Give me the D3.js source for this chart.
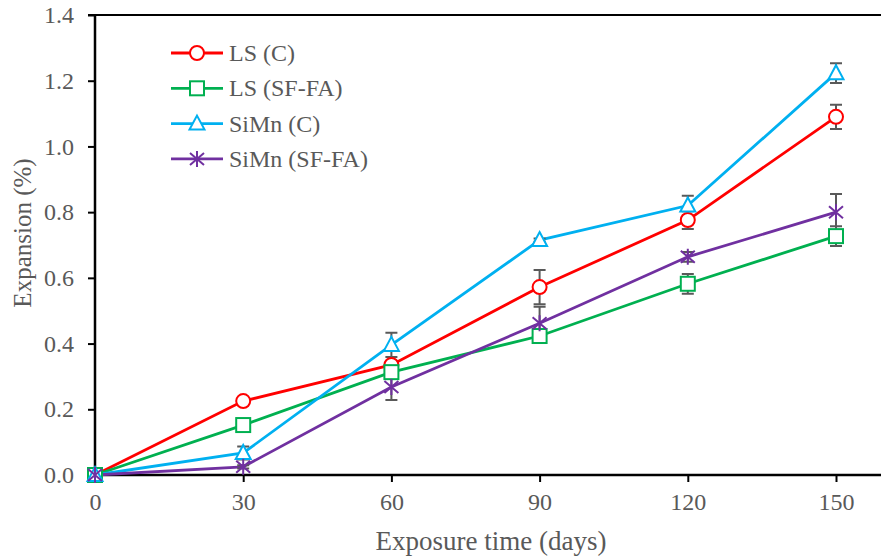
<!DOCTYPE html>
<html>
<head>
<meta charset="utf-8">
<script src="https://cdn.jsdelivr.net/npm/d3@7"></script>
<style>
  body { margin: 0; background: #fff; }
  text { font-family: "Liberation Serif", "Times New Roman", serif; fill: #595959; }
</style>
</head>
<body>
<script>
// Data
var days = [0, 30, 60, 90, 120, 150];
var xTicks = [0, 30, 60, 90, 120, 150];
var yTicks = [0, 0.2, 0.4, 0.6, 0.8, 1.0, 1.2, 1.4];

var lsC      = [0, 0.225, 0.335, 0.572, 0.776, 1.090];
var lsCErr   = [0, 0.005, 0.010, 0.052, 0.027, 0.037];
var lsSF     = [0, 0.152, 0.313, 0.423, 0.582, 0.727];
var lsSFErr  = [0, 0.005, 0.010, 0.010, 0.030, 0.030];
var smC      = [0, 0.067, 0.396, 0.715, 0.820, 1.223];
var smCErr   = [0, 0.020, 0.037, 0.005, 0.030, 0.030];
var smSF     = [0, 0.025, 0.268, 0.462, 0.664, 0.800];
var smSFErr  = [0, 0.005, 0.040, 0.050, 0.015, 0.055];

var seriesNames = ["LS (C)", "LS (SF-FA)", "SiMn (C)", "SiMn (SF-FA)"];
var seriesColors = ["#ff0000", "#00b050", "#00b0f0", "#7030a0"];
var seriesMarkers = ["circle", "square", "triangle", "star"];

var series = [
  { name: seriesNames[0], values: lsC,  errs: lsCErr,  color: seriesColors[0], marker: seriesMarkers[0] },
  { name: seriesNames[1], values: lsSF, errs: lsSFErr, color: seriesColors[1], marker: seriesMarkers[1] },
  { name: seriesNames[2], values: smC,  errs: smCErr,  color: seriesColors[2], marker: seriesMarkers[2] },
  { name: seriesNames[3], values: smSF, errs: smSFErr, color: seriesColors[3], marker: seriesMarkers[3] }
];

var width = 881, height = 560;

var svg = d3.select("body").append("svg")
    .attr("width", width)
    .attr("height", height);

var x = d3.scaleLinear().domain([0, 150]).range([95, 836]);
var y = d3.scaleLinear().domain([0, 1.4]).range([475, 15]);

// Top border line
svg.append("line")
    .attr("x1", x(0) - 7).attr("x2", width)
    .attr("y1", y(1.4)).attr("y2", y(1.4))
    .attr("stroke", "#000").attr("stroke-width", 2);

// Axes
var yAxis = svg.append("g")
    .attr("transform", "translate(" + x(0) + ",0)")
    .call(d3.axisLeft(y).tickValues(yTicks).tickFormat(d3.format(".1f")).tickSize(7).tickPadding(14));
var xAxis = svg.append("g")
    .attr("transform", "translate(0," + y(0) + ")")
    .call(d3.axisBottom(x).tickValues(xTicks).tickSize(7).tickPadding(11));

[xAxis, yAxis].forEach(function(ax) {
    ax.select(".domain").remove();
    ax.selectAll(".tick line").attr("stroke", "#000").attr("stroke-width", 2);
    ax.selectAll(".tick text").style("font-size", "24px").attr("fill", "#595959");
});
svg.append("line")
    .attr("x1", x(0)).attr("x2", x(0))
    .attr("y1", y(1.4)).attr("y2", y(0) + 1)
    .attr("stroke", "#000").attr("stroke-width", 2.5);
svg.append("line")
    .attr("x1", x(0) - 1).attr("x2", width)
    .attr("y1", y(0)).attr("y2", y(0))
    .attr("stroke", "#000").attr("stroke-width", 2.5);

// Axis titles
svg.append("text")
    .attr("x", 491)
    .attr("y", 550)
    .attr("text-anchor", "middle")
    .style("font-size", "27px")
    .text("Exposure time (days)");
svg.append("text")
    .attr("transform", "translate(31,233) rotate(-90)")
    .attr("text-anchor", "middle")
    .style("font-size", "25px")
    .text("Expansion (%)");

// Marker drawing
var drawMarker = function(g, type, color) {
    if (type === "circle") {
        g.append("circle").attr("r", 7)
            .attr("fill", "#fff").attr("stroke", color).attr("stroke-width", 2);
    } else if (type === "square") {
        g.append("rect").attr("x", -7).attr("y", -7).attr("width", 14).attr("height", 14)
            .attr("fill", "#fff").attr("stroke", color).attr("stroke-width", 2);
    } else if (type === "triangle") {
        g.append("path").attr("d", "M0,-8L7.5,6L-7.5,6Z")
            .attr("fill", "#fff").attr("stroke", color).attr("stroke-width", 2);
    } else {
        g.append("path").attr("d", "M0,-8L0,8M-7,-6L7,6M-7,6L7,-6")
            .attr("fill", "none").attr("stroke", color).attr("stroke-width", 2);
    }
};

var line = d3.line()
    .x(function(d, i) { return x(days[i]); })
    .y(function(d) { return y(d); });

// Lines
series.forEach(function(s) {
    svg.append("path")
        .datum(s.values)
        .attr("d", line)
        .attr("fill", "none")
        .attr("stroke", s.color)
        .attr("stroke-width", 2.8);
});

// Error bars
series.forEach(function(s) {
    var eb = svg.append("g");
    s.values.forEach(function(v, i) {
        var e = s.errs[i];
        if (e <= 0) return;
        var cx = x(days[i]);
        var path = "M" + cx + "," + y(v + e) + "L" + cx + "," + y(v - e) +
            "M" + (cx - 6) + "," + y(v + e) + "L" + (cx + 6) + "," + y(v + e) +
            "M" + (cx - 6) + "," + y(v - e) + "L" + (cx + 6) + "," + y(v - e);
        eb.append("path").attr("d", path)
            .attr("stroke", "#595959").attr("stroke-width", 2).attr("fill", "none");
    });
});

// Markers
series.forEach(function(s) {
    s.values.forEach(function(v, i) {
        var g = svg.append("g").attr("transform", "translate(" + x(days[i]) + "," + y(v) + ")");
        drawMarker(g, s.marker, s.color);
    });
});

// Legend
var legend = svg.append("g");
series.forEach(function(s, i) {
    var ly = 53 + i * 35.3;
    var g = legend.append("g").attr("transform", "translate(0," + ly + ")");
    g.append("line").attr("x1", 171).attr("x2", 223).attr("y1", 0).attr("y2", 0)
        .attr("stroke", s.color).attr("stroke-width", 2.8);
    var m = g.append("g").attr("transform", "translate(197,0)");
    drawMarker(m, s.marker, s.color);
    g.append("text").attr("x", 229).attr("y", 8)
        .style("font-size", "24px")
        .text(s.name);
});
</script>
</body>
</html>
